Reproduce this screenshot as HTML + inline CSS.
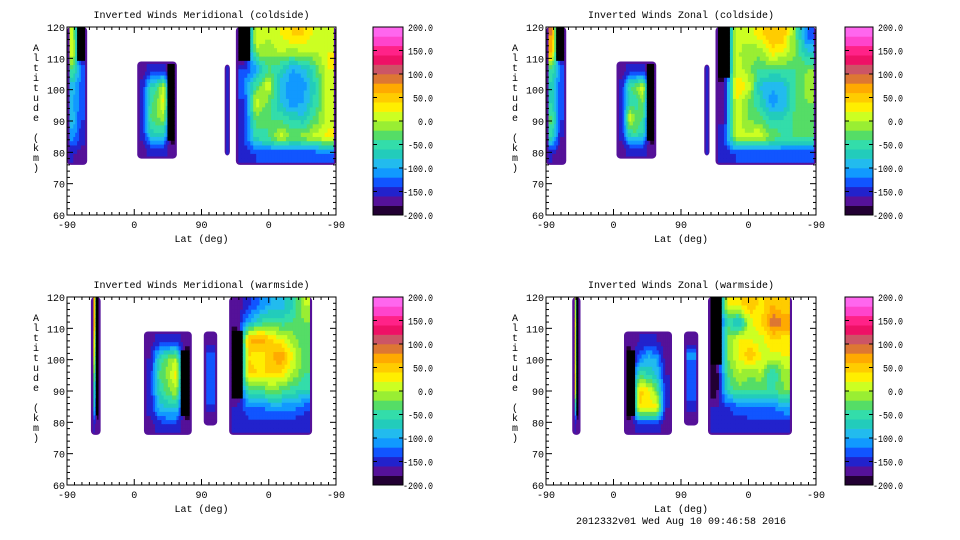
<!DOCTYPE html>
<html><head><meta charset="utf-8"><style>
body{margin:0;background:#fff;width:960px;height:540px;overflow:hidden}
svg{display:block;font-family:"Liberation Mono",monospace;font-size:10px}
</style></head><body>
<svg id="s" width="960" height="540"></svg>
<script>
// ---- data ----
const trackTicks=[0,90,180,270,360];
const trackTickLabels=["-90","0","90","0","-90"];
const altTicks=[60,70,80,90,100,110,120];
const cbTicks=[-200,-150,-100,-50,0,50,100,150,200];
const bandColors=["#220033","#551199","#2222cc","#1155ff","#1199ff","#22bbee","#22ccbb","#33ddaa","#55dd66","#99ee33","#ccff22","#ffee00","#ffcc00","#ffaa00","#dd7733","#cc5566","#ee1166","#ff2288","#ff44cc","#ff66ee"];
const titles=["Inverted Winds Meridional (coldside)","Inverted Winds Zonal (coldside)","Inverted Winds Meridional (warmside)","Inverted Winds Zonal (warmside)"];
// blocks: [t0,t1,z0,z1, grid(cols of rows top->bottom)]
const p1A=[[0,20,-40,-90,-100,-90,-110,-160],[-210,-210,-120,-130,-130,-140,-150,-170]];
const p1B=[[-170,-150,-150,-150,-150,-170],[-150,-60,-50,-40,-70,-150],[-150,-40,-20,-20,-60,-140],[-150,10,30,-10,-60,-150],[-210,-210,-210,-210,-210,-170]];
const p1C=[[-150,-150,-150,-150]];
const p1D=[[-210,-210,-140,-120,-150,-150,-140,-160],[20,-10,-110,-40,20,-30,-50,-140],[0,-10,-40,20,-30,-40,-40,-140],[20,0,-60,-90,-80,-40,10,-140],[40,-10,-100,-120,-110,-60,-20,-140],[40,0,-90,-110,-100,-70,-10,-140],[10,0,-40,-60,-50,-30,10,-140],[0,20,20,10,10,10,30,-130]];
const p2A=[[80,60,-40,-70,-60,-30,-60,-160],[-210,-210,-120,-130,-140,-140,-160,-170]];
const p2B=[[-170,-150,-150,-150,-150,-170],[-150,-40,-60,20,-50,-150],[-150,-20,-50,-30,-40,-150],[-150,20,-20,-40,-60,-150],[-210,-210,-210,-210,-210,-170]];
const p2C=[[-150,-150,-150,-150]];
const p2D=[[-210,-210,-210,-170,-170,-170,-140,-160],[20,10,10,40,20,20,0,-140],[10,-20,-10,20,-20,-20,10,-140],[30,-10,-40,-80,-60,-30,20,-140],[60,30,-40,-100,-110,-60,-20,-140],[50,20,-40,-90,-90,-60,-40,-140],[-30,-20,-40,-40,-40,-30,-40,-140],[-130,-80,-20,-10,-20,-40,-40,-140]];
const p3A=[[60,80,40,20,-20,-60,-80,-160],[-210,-210,-210,-210,-210,-210,-210,-170]];
const p3B=[[-170,-160,-150,-150,-150,-170],[-150,-60,-40,-60,-90,-150],[-150,-20,-10,-30,-80,-140],[-150,0,30,0,-70,-150],[-170,-210,-210,-210,-210,-170]];
const p3C=[[-170,-130,-130,-130,-130,-170]];
const p3D=[[-170,-170,-210,-210,-210,-210,-160,-160],[-150,-100,60,40,50,-40,-120,-150],[-120,-60,80,20,40,-40,-120,-150],[-100,-40,40,60,40,-20,-110,-150],[-90,-50,20,80,40,-30,-110,-150],[-60,-40,-10,20,0,-50,-110,-150],[0,-20,-40,-30,-40,-60,-130,-160]];
const p4A=[[0,30,20,20,40,40,-60,-160],[-210,-210,-210,-210,-210,-210,-210,-170]];
const p4B=[[-170,-210,-210,-210,-210,-170],[-160,-120,-40,50,40,-150],[-160,-90,-60,30,20,-140],[-160,-100,-80,-20,40,-150],[-170,-170,-160,-150,-160,-170]];
const p4C=[[-170,-110,-140,-140,-140,-170]];
const p4D=[[-210,-210,-210,-210,-200,-200,-160,-160],[20,-50,-20,-20,-40,-60,-140,-150],[30,-90,20,20,0,-30,-130,-150],[60,10,20,60,-20,-30,-120,-150],[30,40,10,20,0,-40,-120,-150],[60,100,40,10,-70,-40,-120,-150],[40,80,30,20,-10,-20,-100,-150]];
const blocks=[
 [[0,27,76,120,p1A],[94,147,78,109,p1B],[211,218,79,108,p1C],[226,360,76,120,p1D]],
 [[0,27,76,120,p2A],[94,147,78,109,p2B],[211,218,79,108,p2C],[226,360,76,120,p2D]],
 [[32,45,76,120,p3A],[103,167,76,109,p3B],[183,201,79,109,p3C],[217,328,76,120,p3D]],
 [[35,46,76,120,p4A],[104,168,76,109,p4B],[184,203,79,109,p4C],[216,328,76,120,p4D]]];
// ---- layout ----
const panels=[{x:67,y:27,w:269,h:188,cb:373,cbw:30},{x:546,y:27,w:270,h:188,cb:845,cbw:28},{x:67,y:297,w:269,h:188,cb:373,cbw:30},{x:546,y:297,w:270,h:188,cb:845,cbw:28}];
const NS="http://www.w3.org/2000/svg",S=document.getElementById('s');
function mk(t,a,p){const e=document.createElementNS(NS,t);for(const k in a)e.setAttribute(k,a[k]);(p||S).appendChild(e);return e;}
function col(v){if(v<-200)return"#000";let b=Math.floor((v+200)/20);return bandColors[Math.max(0,Math.min(19,b))];}
function sample(grid,fx,fy){
 const nc=grid.length,nr=grid[0].length;
 let cx=Math.max(0,Math.min(nc-1,fx-0.5)),cy=Math.max(0,Math.min(nr-1,fy-0.5));
 const i0=Math.floor(cx),j0=Math.floor(cy),i1=Math.min(nc-1,i0+1),j1=Math.min(nr-1,j0+1);
 const ax=cx-i0,ay=cy-j0;
 const a=grid[i0][j0],b=grid[i1][j0],c=grid[i0][j1],d=grid[i1][j1];
 if(Math.min(a,b,c,d)<-200){ // keep black strips crisp
  const ii=fx<nc?Math.floor(Math.min(nc-1,fx)):nc-1,jj=Math.floor(Math.min(nr-1,fy));
  if(grid[ii][jj]<-200)return -210;
 }
 const A=a<-200?-200:a,B=b<-200?-200:b,C=c<-200?-200:c,D=d<-200?-200:d;
 return (A*(1-ax)+B*ax)*(1-ay)+(C*(1-ax)+D*ax)*ay;
}
panels.forEach((P,i)=>{
 const g=mk('g',{});
 
 
 const X=t=>P.x+t/360*P.w, Y=z=>P.y+(120-z)/60*P.h;
 blocks[i].forEach((B,bi)=>{
  const [t0,t1,z0,z1,grid]=B;
  const bg=mk('g',{},g);
  
  
  const top=z1>=120;
  const r=mk('rect',{x:X(t0),y:Y(z1),width:X(t1)-X(t0),height:Y(z0)-Y(z1),rx:4,fill:"#551199"},bg);
  
  
  const ins=(X(t1)-X(t0))>8?2.5:1.5;
  const gx0=X(t0)+ins,gx1=X(t1)-ins,gy0=Y(z1)+(top?0:ins),gy1=Y(z0)-ins;
  const nc=grid.length,nr=grid[0].length,cw=(gx1-gx0)/nc,rh=(gy1-gy0)/nr;
  const sub=nc>1?4:1, subr=4;
  for(let ci=0;ci<nc*sub;ci++)for(let ri=0;ri<nr*subr;ri++){
   const v=sample(grid,(ci+0.5)/sub,(ri+0.5)/subr);
   const cell=mk('rect',{x:gx0+ci*cw/sub,y:gy0+ri*rh/subr,width:cw/sub+0.4,height:rh/subr+0.4,fill:col(v)},bg);
   
   
  }
 });
 const fr=mk('rect',{x:P.x,y:P.y,width:P.w,height:P.h,fill:"none",stroke:"#000","stroke-width":1},g);
 
 
 for(let z=60;z<=120;z+=2){const L=(z%10==0)?6:3;
  mk('line',{x1:P.x,x2:P.x+L,y1:Y(z),y2:Y(z),stroke:"#000"},g);
  mk('line',{x1:P.x+P.w,x2:P.x+P.w-L,y1:Y(z),y2:Y(z),stroke:"#000"},g);}
 for(let t=0;t<=360;t+=10){const L=(t%90==0)?6:3;
  mk('line',{x1:X(t),x2:X(t),y1:P.y+P.h,y2:P.y+P.h-L,stroke:"#000"},g);
  mk('line',{x1:X(t),x2:X(t),y1:P.y,y2:P.y+L,stroke:"#000"},g);}
 trackTicks.forEach((t,k)=>{const e=mk('text',{x:X(t),y:P.y+P.h+13,"text-anchor":"middle"},g);e.textContent=trackTickLabels[k];
  });
 altTicks.forEach(z=>{const e=mk('text',{x:P.x-2,y:Y(z)+4,"text-anchor":"end"},g);e.textContent=z;
  });
 const xt=mk('text',{x:P.x+P.w/2,y:P.y+P.h+27,"text-anchor":"middle"},g);xt.textContent="Lat (deg)";
 
 const tt=mk('text',{x:P.x+P.w/2,y:P.y-9,"text-anchor":"middle"},g);tt.textContent=titles[i];
 
 const yt=mk('text',{x:P.x-31,y:P.y+24,"text-anchor":"middle"},g);
 
 "Altitude (km)".split('').forEach((ch,k)=>{const s=mk('tspan',{x:P.x-31,y:P.y+24+k*10},yt);s.textContent=ch===' '?'\u00a0':ch;});
 const cg=mk('g',{},g);
 
 const bh=P.h/20;
 bandColors.forEach((c,k)=>{mk('rect',{x:P.cb,y:P.y+P.h-(k+1)*bh,width:P.cbw,height:bh+0.3,fill:c},cg);});
 mk('rect',{x:P.cb,y:P.y,width:P.cbw,height:P.h,fill:"none",stroke:"#000"},cg);
 cbTicks.forEach(v=>{const yy=P.y+P.h-(v+200)/400*P.h;
  mk('line',{x1:P.cb,x2:P.cb+4,y1:yy,y2:yy,stroke:"#000"},cg);
  mk('line',{x1:P.cb+P.cbw,x2:P.cb+P.cbw-4,y1:yy,y2:yy,stroke:"#000"},cg);
  const s=v.toFixed(1);
  const e=mk('text',{x:P.cb+P.cbw+30,y:yy+4,"text-anchor":"end",textLength:s.length*5,lengthAdjust:"spacingAndGlyphs"},cg);e.textContent=s;
  });
});
const f=mk('text',{x:681,y:524,"text-anchor":"middle"});f.textContent="2012332v01 Wed Aug 10 09:46:58 2016";

</script>
</body></html>
